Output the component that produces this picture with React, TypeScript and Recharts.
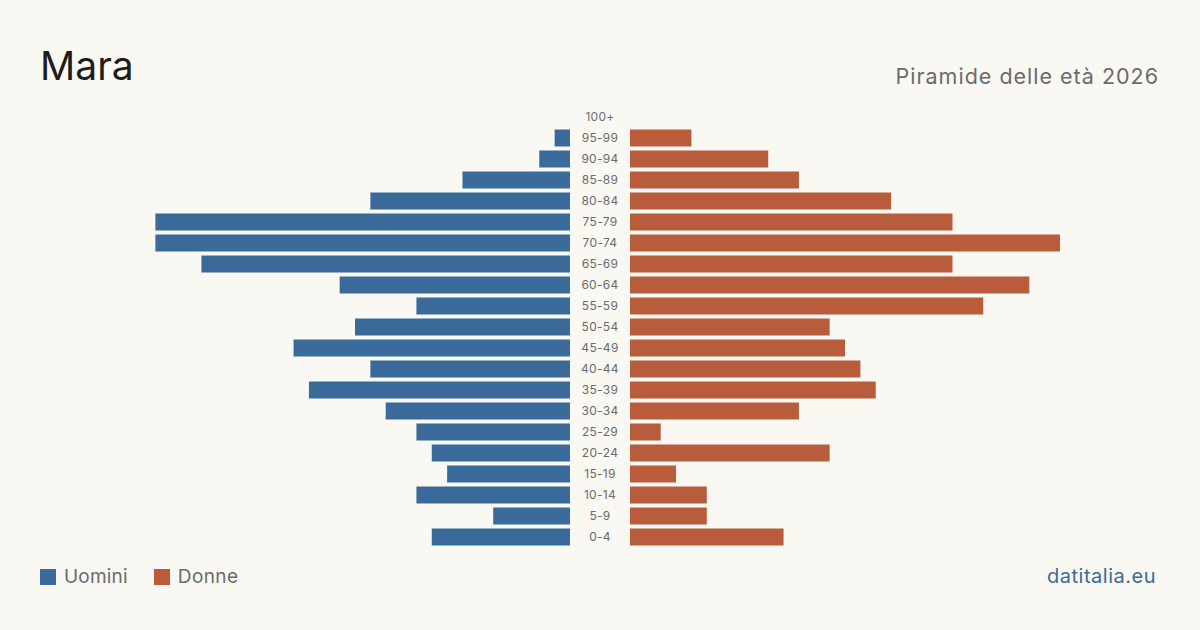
import React from "react";
import { BarChart, Bar, XAxis, YAxis } from "recharts";

// Age classes, top to bottom
const ageGroups = [
  "100+", "95-99", "90-94", "85-89", "80-84", "75-79", "70-74", "65-69",
  "60-64", "55-59", "50-54", "45-49", "40-44", "35-39", "30-34", "25-29",
  "20-24", "15-19", "10-14", "5-9", "0-4",
];

// Residents by age class
const men = [0, 1, 2, 7, 13, 27, 27, 24, 15, 10, 14, 18, 13, 17, 12, 10, 9, 8, 10, 5, 9];
const women = [0, 4, 9, 11, 17, 21, 28, 21, 26, 23, 13, 14, 15, 16, 11, 2, 13, 3, 5, 5, 10];

const data = ageGroups.map((age, i) => ({ age, men: men[i], women: women[i] }));

const MAX = 28;
const BLUE = "#3a6a9a";
const ORANGE = "#b95c3c";
const BG = "#f9f8f3";
const FONT = "Inter, 'Noto Sans', sans-serif";

const CenterTick = (props: any) => {
  const { y, payload } = props;
  return (
    <text
      x={460}
      y={y}
      dy={4}
      textAnchor="middle"
      fontSize={12}
      letterSpacing={0.3}
      fill="#6b6b6b"
      fontFamily={FONT}
    >
      {payload.value}
    </text>
  );
};

export default function App() {
  const chartTop = 106.5;
  const chartBottom = 630 - 547.5;
  return (
    <div
      style={{
        position: "fixed",
        left: 0,
        top: 0,
        width: 1200,
        height: 630,
        background: BG,
        fontFamily: FONT,
        overflow: "hidden",
      }}
    >
      <div style={{ position: "absolute", left: 40, top: 43, fontSize: 39, color: "#1c1c1c", lineHeight: "46px" }}>
        Mara
      </div>
      <div
        style={{
          position: "absolute",
          right: 41,
          top: 62,
          fontSize: 21.5,
          letterSpacing: 1,
          color: "#6b6b6b",
          lineHeight: "28px",
        }}
      >
        Piramide delle età 2026
      </div>

      <div style={{ position: "absolute", left: 140, top: 0 }}>
        <BarChart
          layout="vertical"
          width={490}
          height={630}
          data={data}
          margin={{ top: chartTop, bottom: chartBottom, left: 0, right: 0 }}
          barSize={17}
        >
          <XAxis type="number" domain={[0, MAX]} reversed hide />
          <YAxis
            type="category"
            dataKey="age"
            orientation="right"
            width={60}
            axisLine={false}
            tickLine={false}
            interval={0}
            tick={<CenterTick />}
          />
          <Bar dataKey="men" fill={BLUE} isAnimationActive={false} />
        </BarChart>
      </div>

      <div style={{ position: "absolute", left: 630, top: 0 }}>
        <BarChart
          layout="vertical"
          width={430}
          height={630}
          data={data}
          margin={{ top: chartTop, bottom: chartBottom, left: 0, right: 0 }}
          barSize={17}
        >
          <XAxis type="number" domain={[0, MAX]} hide />
          <YAxis type="category" dataKey="age" hide />
          <Bar dataKey="women" fill={ORANGE} isAnimationActive={false} />
        </BarChart>
      </div>

      <div
        style={{
          position: "absolute",
          left: 40,
          top: 565,
          display: "flex",
          alignItems: "center",
          fontSize: 19,
          color: "#6b6b6b",
          lineHeight: "24px",
        }}
      >
        <span style={{ width: 16, height: 16, background: BLUE, display: "inline-block", marginRight: 8 }} />
        <span style={{ marginRight: 26, letterSpacing: 0.2 }}>Uomini</span>
        <span style={{ width: 16, height: 16, background: ORANGE, display: "inline-block", marginRight: 8 }} />
        <span style={{ letterSpacing: 0.4 }}>Donne</span>
      </div>

      <div
        style={{
          position: "absolute",
          right: 44,
          top: 564,
          fontSize: 20,
          letterSpacing: 0.5,
          color: BLUE,
          lineHeight: "24px",
        }}
      >
        datitalia.eu
      </div>
    </div>
  );
}
